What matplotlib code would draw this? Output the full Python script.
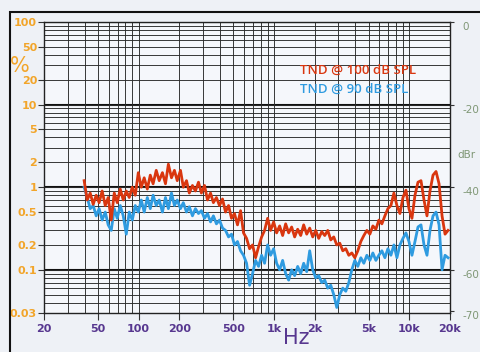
import numpy as np
import matplotlib.pyplot as plt
from matplotlib.patches import Rectangle
from matplotlib.ticker import FixedLocator, NullFormatter, LogLocator

# Frequenze di misura (Hz)
freq_hz = [
    39.6, 41.7, 43.9, 46.2, 48.6, 51.1, 53.8, 56.7, 59.6, 62.8,
    66.1, 69.5, 73.2, 77.0, 81.1, 85.3, 89.8, 94.5, 99.5, 104.7,
    110, 116, 122, 128, 135, 142, 150, 158, 166, 175,
    184, 193, 204, 214, 226, 237, 250, 263, 277, 291,
    307, 323, 340, 357, 376, 396, 417, 439, 462, 486,
    511, 538, 567, 596, 628, 661, 695, 732, 770, 811,
    853, 898, 945, 995, 1047, 1102, 1160, 1221, 1285, 1352,
    1423, 1498, 1577, 1659, 1747, 1838, 1935, 2036, 2143, 2256,
    2374, 2499, 2630, 2768, 2913, 3066, 3227, 3397, 3575, 3763,
    3960, 4168, 4387, 4617, 4860, 5115, 5383, 5666, 5963, 6276,
    6606, 6953, 7318, 7702, 8106, 8532, 8980, 9451, 9947, 10470,
    11020, 11600, 12210, 12850, 13520, 14230, 14980, 15770, 16600, 17470,
    18380, 19350,
]

# TND (%) a 100 dB SPL
tnd_100db = [
    1.2, 0.7, 0.85, 0.62, 0.8, 0.65, 0.9, 0.6, 0.75, 0.4,
    0.85, 0.65, 0.95, 0.7, 0.9, 0.75, 1.0, 0.8, 1.5, 1.0,
    1.3, 0.95, 1.4, 1.1, 1.6, 1.2, 1.5, 1.1, 1.9, 1.3,
    1.6, 1.2, 1.6, 1.0, 1.2, 0.85, 1.05, 0.9, 1.15, 0.85,
    1.05, 0.7, 0.85, 0.65, 0.75, 0.6, 0.72, 0.5, 0.6, 0.42,
    0.48, 0.35, 0.52, 0.28, 0.24, 0.18, 0.2, 0.14, 0.19, 0.25,
    0.3, 0.42, 0.3, 0.38, 0.28, 0.34, 0.26, 0.36, 0.28, 0.33,
    0.25, 0.31, 0.26, 0.35, 0.27, 0.32, 0.25, 0.3, 0.24, 0.29,
    0.26, 0.3, 0.23, 0.25, 0.2, 0.21, 0.17, 0.18, 0.15, 0.16,
    0.14, 0.17, 0.22, 0.26, 0.3, 0.27, 0.34, 0.31, 0.4, 0.36,
    0.45, 0.55, 0.6, 0.85, 0.6, 0.48, 0.75, 0.92, 0.55, 0.42,
    0.8, 1.15, 1.2, 0.7, 0.45, 0.9, 1.4, 1.55, 1.1, 0.45,
    0.27, 0.3,
]

# TND (%) a 90 dB SPL
tnd_90db = [
    1.0, 0.75, 0.55, 0.6, 0.45, 0.55, 0.4, 0.5, 0.35, 0.3,
    0.55, 0.42, 0.6, 0.45, 0.27, 0.5, 0.4, 0.6, 0.5, 0.7,
    0.5, 0.75, 0.55, 0.8, 0.6, 0.7, 0.5, 0.75, 0.55, 0.85,
    0.6, 0.7, 0.55, 0.65, 0.5, 0.58, 0.45, 0.55, 0.48, 0.52,
    0.42, 0.48, 0.38, 0.45, 0.36, 0.4, 0.32, 0.3, 0.25, 0.27,
    0.2, 0.22, 0.17, 0.15, 0.12, 0.065, 0.09, 0.13, 0.11, 0.15,
    0.12, 0.2, 0.15, 0.18, 0.12, 0.1, 0.13, 0.09, 0.075, 0.1,
    0.085, 0.11, 0.09, 0.12, 0.095, 0.17, 0.1, 0.08, 0.085, 0.07,
    0.075, 0.06, 0.065, 0.05, 0.035, 0.05, 0.06, 0.055, 0.07, 0.1,
    0.13, 0.11, 0.14, 0.12, 0.15, 0.13, 0.16, 0.13, 0.15, 0.17,
    0.14, 0.18, 0.15, 0.2, 0.14, 0.2, 0.24, 0.28, 0.22, 0.15,
    0.22, 0.33, 0.35, 0.2, 0.15, 0.3, 0.45, 0.5, 0.35, 0.1,
    0.15, 0.14,
]

x_ticks = [20, 50, 100, 200, 500, 1000, 2000, 5000, 10000, 20000]
x_labels = ['20', '50', '100', '200', '500', '1k', '2k', '5k', '10k', '20k']
y_ticks = [100, 50, 20, 10, 5, 2, 1, 0.5, 0.2, 0.1, 0.03]
y_labels = ['100', '50', '20', '10', '5', '2', '1', '0.5', '0.2', '0.1', '0.03']
dbr_ticks = [0, -20, -40, -60, -70]

rosso = '#d9360f'
blu = '#2f9be0'
arancio = '#f2a52a'
viola = '#57378f'
verde = '#7f9775'

fig = plt.figure(figsize=(4.8, 3.52), dpi=100, facecolor='#eef1f6')
ax = fig.add_axes([44 / 480, 39 / 352, 406 / 480, 291 / 352])
ax.set_facecolor('#f5f7fb')

# cornice esterna
fig.patches.append(Rectangle((10 / 480, -0.05), 1.0, 1 - 12 / 352 + 0.05,
                             transform=fig.transFigure, fill=False,
                             edgecolor='#111111', lw=1.5))

ax.set_xscale('log')
ax.set_yscale('log')
ax.set_xlim(20, 20000)
ax.set_ylim(0.03, 100)

ax.xaxis.set_major_locator(FixedLocator(x_ticks))
ax.set_xticklabels(x_labels)
ax.xaxis.set_minor_locator(LogLocator(base=10, subs=np.arange(1, 10)))
ax.xaxis.set_minor_formatter(NullFormatter())
ax.yaxis.set_major_locator(FixedLocator(y_ticks))
ax.set_yticklabels(y_labels)
ax.yaxis.set_minor_locator(LogLocator(base=10, subs=np.arange(1, 10)))
ax.yaxis.set_minor_formatter(NullFormatter())

ax.grid(True, which='both', color='#2a2a2a', lw=0.65)
for d in [0.1, 1, 10, 100]:
    ax.axhline(d, color='#111111', lw=1.5, zorder=1)

ax.tick_params(axis='x', which='major', length=5, color='#333333',
               labelsize=8, labelcolor=viola, pad=3)
ax.tick_params(axis='y', which='major', length=4, color='#333333',
               labelsize=8, labelcolor=arancio, pad=1)
ax.tick_params(which='minor', length=0)
for lab in ax.get_xticklabels() + ax.get_yticklabels():
    lab.set_fontweight('bold')
for sp in ax.spines.values():
    sp.set_color('#222222')
    sp.set_linewidth(1.0)

ax.plot(freq_hz, tnd_90db, color=blu, lw=2.0, zorder=3)
ax.plot(freq_hz, tnd_100db, color=rosso, lw=2.0, zorder=4)

# scala destra in dBr
ax2 = ax.twinx()
ax2.set_yscale('log')
ax2.set_ylim(0.03, 100)
ax2.yaxis.set_major_locator(FixedLocator([100 * 10 ** (d / 20) for d in dbr_ticks]))
ax2.set_yticklabels([str(d) for d in dbr_ticks])
ax2.yaxis.set_minor_locator(FixedLocator([]))
ax2.tick_params(axis='y', length=3, color='#333333', labelsize=7.5,
                labelcolor=verde, pad=6)
for lab in ax2.get_yticklabels():
    lab.set_va('top')
for sp in ax2.spines.values():
    sp.set_visible(False)

fig.text(466 / 480, 1 - 155 / 352, 'dBr', color=verde, fontsize=7.5,
         ha='center', va='center')
fig.text(20 / 480, 1 - 66 / 352, '%', color=arancio, fontsize=15,
         ha='center', va='center')
fig.text(296 / 480, 1 - 338 / 352, 'Hz', color=viola, fontsize=15,
         ha='center', va='center')

ax2.text(300 / 480, 1 - 70 / 352, 'TND @ 100 dB SPL', color=rosso, fontsize=9.5,
         family='Open Sans', fontweight='semibold', transform=fig.transFigure,
         va='center', zorder=10)
ax2.text(300 / 480, 1 - 89 / 352, 'TND @ 90 dB SPL', color=blu, fontsize=9.5,
         family='Open Sans', fontweight='semibold', transform=fig.transFigure,
         va='center', zorder=10)

fig.savefig('out.png', dpi=100, facecolor=fig.get_facecolor())
